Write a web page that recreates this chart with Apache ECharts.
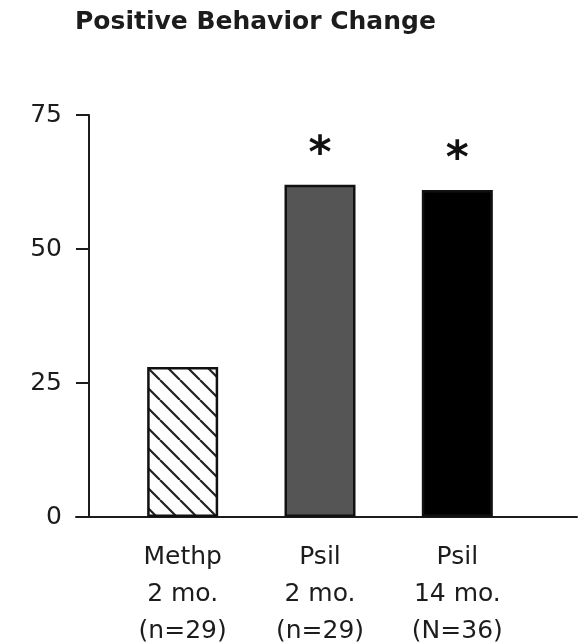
<!DOCTYPE html>
<html>
<head>
<meta charset="utf-8">
<script src="https://cdn.jsdelivr.net/npm/echarts@6/dist/echarts.min.js"></script>
<style>
  html, body { margin: 0; padding: 0; background: #fff; }
  #chart { width: 582px; height: 642px; }
</style>
</head>
<body>
<div id="chart"></div>
<script>
// Percentage of participants reporting positive behavior change
const groups = ['Methp\n2 mo.\n(n=29)', 'Psil\n2 mo.\n(n=29)', 'Psil\n14 mo.\n(N=36)'];
const positiveChange = [28, 62, 61];
const significance = ['', '*', '*'];
const yTicks = [0, 25, 50, 75];

const FONT = '"DejaVu Sans", sans-serif';
const INK = '#1c1c1c';

// Diagonal hatch fill for the methylphenidate bar
function hatchPattern() {
  const c = document.createElement('canvas');
  c.width = 20; c.height = 20;
  const g = c.getContext('2d');
  g.fillStyle = '#fff';
  g.fillRect(0, 0, 20, 20);
  g.strokeStyle = '#222';
  g.lineWidth = 2.2;
  g.beginPath();
  for (const k of [-20, 0, 20]) {
    g.moveTo(k, 0);
    g.lineTo(k + 20, 20);
  }
  g.stroke();
  return { image: c, repeat: 'repeat' };
}

const fills = [hatchPattern(), '#555555', '#000000'];

const chart = echarts.init(document.getElementById('chart'), null, { renderer: 'canvas' });

chart.setOption({
  animation: false,
  backgroundColor: '#fff',
  title: {
    text: 'Positive Behavior Change',
    left: 70,
    top: 5,
    textStyle: { fontFamily: FONT, fontWeight: 'bold', fontSize: 25, color: INK }
  },
  grid: [
    { left: 114, right: 56, top: 115, bottom: 125, outerBoundsMode: 'none', containLabel: false },
    // full-width baseline under the bars
    { left: 76, right: 5, top: 115, bottom: 125, outerBoundsMode: 'none', containLabel: false }
  ],
  xAxis: [
    {
      type: 'category',
      gridIndex: 0,
      data: groups,
      axisLine: { show: false },
      axisTick: { show: false },
      axisLabel: {
        fontFamily: FONT,
        fontSize: 25,
        lineHeight: 37,
        color: INK,
        margin: 22,
        align: 'center'
      }
    },
    {
      type: 'value',
      gridIndex: 1,
      min: 0, max: 1,
      axisLine: { show: true, lineStyle: { color: INK, width: 2 } },
      axisTick: { show: false },
      axisLabel: { show: false },
      splitLine: { show: false }
    }
  ],
  yAxis: [
    {
      type: 'value',
      gridIndex: 0,
      min: yTicks[0],
      max: yTicks[yTicks.length - 1],
      interval: yTicks[1] - yTicks[0],
      offset: 25,
      axisLine: { show: true, lineStyle: { color: INK, width: 2 } },
      axisTick: { show: true, length: 13, lineStyle: { color: INK, width: 2 } },
      axisLabel: { fontFamily: FONT, fontSize: 25, color: INK, margin: 27 },
      splitLine: { show: false }
    },
    {
      type: 'value',
      gridIndex: 1,
      show: false
    }
  ],
  series: [
    {
      type: 'bar',
      xAxisIndex: 0,
      yAxisIndex: 0,
      barWidth: 71,
      data: positiveChange.map((v, i) => ({
        value: v,
        itemStyle: { color: fills[i], borderColor: '#111', borderWidth: 2.5 },
        label: {
          show: significance[i] !== '',
          position: 'top',
          distance: 7,
          formatter: () => significance[i],
          fontFamily: FONT,
          fontWeight: 'bold',
          fontSize: 44,
          color: '#111'
        }
      }))
    }
  ]
});
</script>
</body>
</html>
